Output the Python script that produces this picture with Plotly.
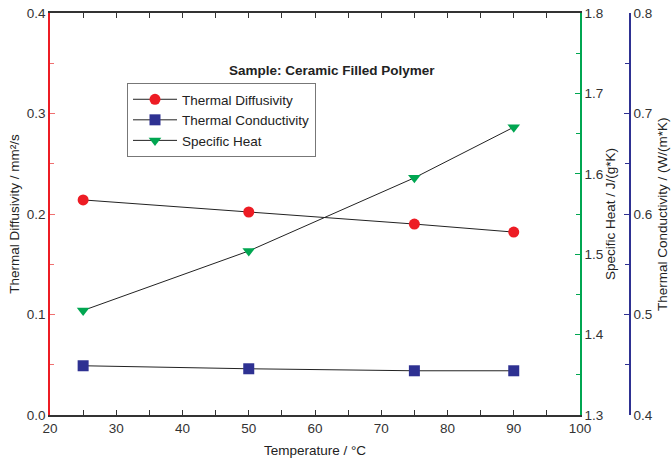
import plotly.graph_objects as go

temperature = [25, 50, 75, 90]
diffusivity = [0.214, 0.202, 0.190, 0.182]
conductivity = [0.449, 0.446, 0.444, 0.444]
specific_heat = [1.430, 1.504, 1.595, 1.658]

RED = "#ed1c24"
GREEN = "#00a651"
NAVY = "#2e3192"
FONT = "Liberation Sans, Arial, sans-serif"

fig = go.Figure()
fig.add_trace(go.Scatter(x=temperature, y=diffusivity, name="Thermal Diffusivity",
                         mode="lines+markers", line=dict(color="#222", width=1),
                         marker=dict(symbol="circle", size=11, color=RED), yaxis="y"))
fig.add_trace(go.Scatter(x=temperature, y=conductivity, name="Thermal Conductivity",
                         mode="lines+markers", line=dict(color="#222", width=1),
                         marker=dict(symbol="square", size=11, color=NAVY), yaxis="y3"))
fig.add_trace(go.Scatter(x=temperature, y=specific_heat, name="Specific Heat",
                         mode="lines+markers", line=dict(color="#222", width=1),
                         marker=dict(symbol="triangle-down", size=11, color=GREEN), yaxis="y2"))

tickfont = dict(family=FONT, size=13.5, color="#333")
titlefont = dict(family=FONT, size=13.5, color="#222")

# screen plot area: x 50..630 (data axis ends at 580, blue axis at 630); y 13..415
PX0, PW = 50, 580
PY0, PH = 13, 402


def px_to_paper_x(px):
    return (px - PX0) / PW


def py_to_paper_y(py):
    return (PY0 + PH - py) / PH


W, H = 672, 460
L, T = PX0, PY0
R = W - L - PW
B = H - T - PH

fig.update_layout(
    width=W, height=H,
    margin=dict(l=L, r=R, t=T, b=B, autoexpand=False),
    paper_bgcolor="white", plot_bgcolor="white",
    font=dict(family=FONT, color="#222"),
    showlegend=True,
    hovermode=False,
    legend=dict(x=px_to_paper_x(127), y=py_to_paper_y(83), xanchor="left", yanchor="top",
                bordercolor="#777", borderwidth=1, bgcolor="white",
                font=dict(family=FONT, size=13.5, color="#222"),
                tracegroupgap=0, itemwidth=44),
    xaxis=dict(domain=[0, 530 / 580], range=[20, 100], dtick=10,
               showgrid=False, zeroline=False,
               showline=True, linecolor="#333", linewidth=1.5, mirror="ticks",
               ticks="inside", ticklen=5, tickcolor="#333",
               minor=dict(dtick=5, ticks="inside", ticklen=5, tickcolor="#333"),
               tickfont=tickfont, ticklabeloverflow="allow",
               title=dict(text="Temperature / °C", font=titlefont, standoff=11)),
    yaxis=dict(range=[0, 0.4], dtick=0.1, tickformat=".1f",
               showgrid=False, zeroline=False,
               showline=True, linecolor=RED, linewidth=1.5,
               ticks="inside", ticklen=5, tickcolor="#f07070",
               minor=dict(dtick=0.05, ticks="inside", ticklen=4, tickcolor="#f07070"),
               tickfont=tickfont, ticklabeloverflow="allow",
               title=dict(text="Thermal Diffusivity / mm²/s", font=titlefont, standoff=4)),
    yaxis2=dict(range=[1.3, 1.8], dtick=0.1, tickformat=".1f",
                overlaying="y", side="right", anchor="x",
                showgrid=False, zeroline=False,
                showline=True, linecolor=GREEN, linewidth=1.5,
                ticks="inside", ticklen=5, tickcolor=GREEN,
                minor=dict(dtick=0.05, ticks="inside", ticklen=4, tickcolor=GREEN),
                tickfont=tickfont, ticklabeloverflow="allow",
                title=dict(text="Specific Heat / J/(g*K)", font=titlefont, standoff=0)),
    yaxis3=dict(range=[0.4, 0.8], dtick=0.1, tickformat=".1f",
                overlaying="y", side="right", anchor="free", position=1.0,
                showgrid=False, zeroline=False,
                showline=True, linecolor=NAVY, linewidth=1.5,
                ticks="inside", ticklen=5, tickcolor=NAVY,
                minor=dict(dtick=0.05, ticks="inside", ticklen=4, tickcolor=NAVY),
                tickfont=tickfont, ticklabeloverflow="allow"),
    annotations=[
        dict(text="<b>Sample: Ceramic Filled Polymer</b>",
             x=px_to_paper_x(227), y=py_to_paper_y(61), xref="paper", yref="paper",
             showarrow=False, font=dict(family=FONT, size=13.5, color="#222")),
        dict(text="Thermal Conductivity / (W/(m*K)", textangle=-90,
             x=px_to_paper_x(662), y=0.5, xref="paper", yref="paper",
             xanchor="center", yanchor="middle",
             showarrow=False, font=titlefont),
    ],
)

fig.write_html("out.html",
               config={"displayModeBar": False},
               post_script="document.body.style.margin='0';document.body.style.overflow='hidden';")
